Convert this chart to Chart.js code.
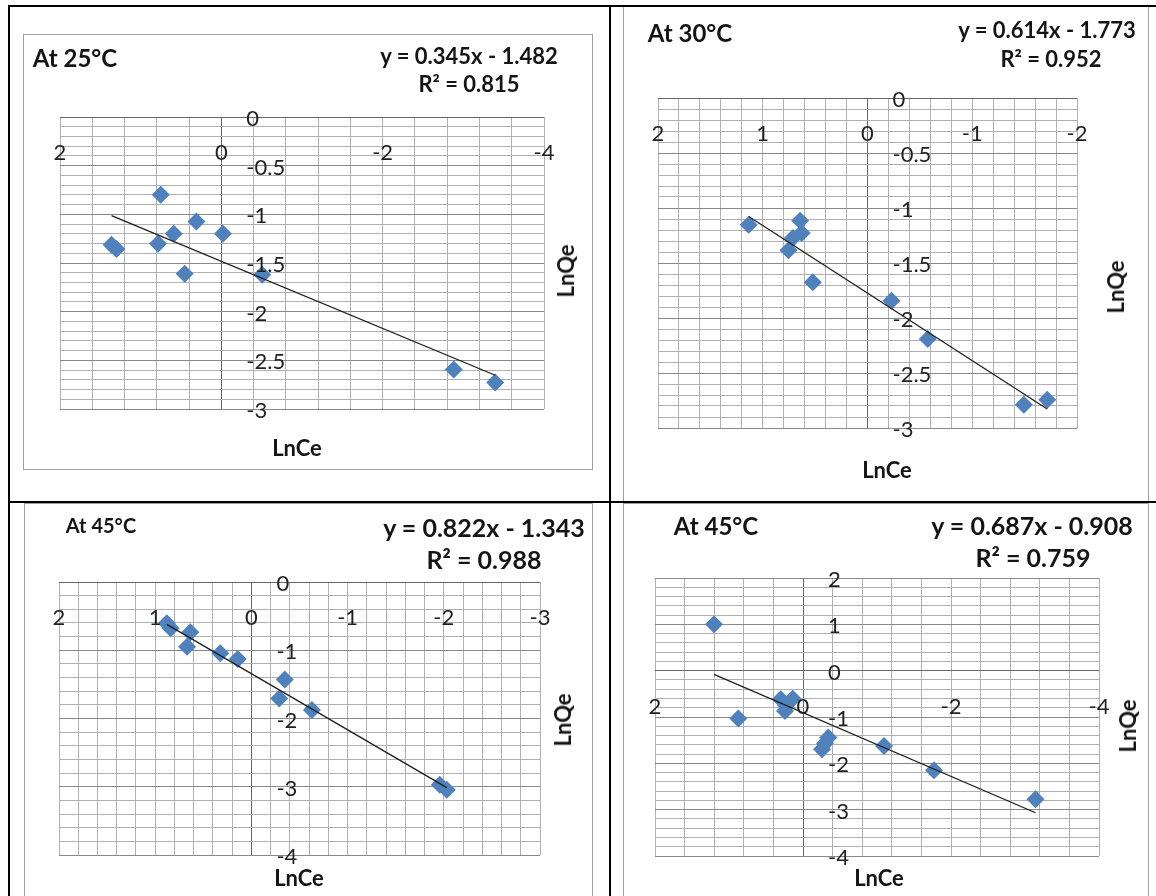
<!DOCTYPE html>
<html>
<head>
<meta charset="utf-8">
<title>Freundlich isotherms</title>
<script src="https://cdn.jsdelivr.net/npm/chart.js@4.4.1/dist/chart.umd.min.js"></script>
<style>
  html, body { margin: 0; padding: 0; background: #fff; }
  #page { position: relative; width: 1156px; height: 896px; overflow: hidden; background: #fff;
          font-family: Lato, "Open Sans", sans-serif; }
  .rule { position: absolute; background: #000; }
  .frame { position: absolute; border: 1px solid #a0a0a0; box-sizing: border-box; }
  canvas { position: absolute; }
  .t { position: absolute; transform: translate(-50%, -50%); white-space: nowrap;
       font-weight: 700; color: #141414; line-height: 1; }
  .rot { transform: translate(-50%, -50%) rotate(-90deg); }
</style>
</head>
<body>
<div id="page">
  <!-- chart frames -->
  <div class="frame" style="left:23px;top:34px;width:570px;height:436px"></div>
  <div class="frame" style="left:623px;top:5px;width:526px;height:497px"></div>
  <div class="frame" style="left:24px;top:503px;width:569px;height:400px"></div>
  <div class="frame" style="left:623px;top:503px;width:526px;height:400px"></div>

  <canvas id="c25" width="570" height="436" style="left:23px;top:34px"></canvas>
  <canvas id="c30" width="526" height="497" style="left:623px;top:5px"></canvas>
  <canvas id="c45a" width="569" height="393" style="left:24px;top:503px"></canvas>
  <canvas id="c45b" width="526" height="393" style="left:623px;top:503px"></canvas>

  <!-- 25 °C -->
  <div class="t" style="left:75px;top:58px;font-size:24px">At 25°C</div>
  <div class="t" id="eq25" style="left:469px;top:56px;font-size:22px"></div>
  <div class="t" id="r25" style="left:469px;top:84px;font-size:22px"></div>
  <div class="t" style="left:297px;top:448px;font-size:22px">LnCe</div>
  <div class="t rot" style="left:566px;top:271px;font-size:22px">LnQe</div>

  <!-- 30 °C -->
  <div class="t" style="left:690px;top:33px;font-size:24px">At 30°C</div>
  <div class="t" id="eq30" style="left:1047px;top:30px;font-size:22px"></div>
  <div class="t" id="r30" style="left:1051px;top:59px;font-size:22px"></div>
  <div class="t" style="left:887px;top:470px;font-size:22px">LnCe</div>
  <div class="t rot" style="left:1116px;top:287px;font-size:22px">LnQe</div>

  <!-- 45 °C, first set -->
  <div class="t" style="left:101px;top:525px;font-size:20px">At 45°C</div>
  <div class="t" id="eq45a" style="left:484px;top:527px;font-size:25px"></div>
  <div class="t" id="r45a" style="left:484px;top:559px;font-size:25px"></div>
  <div class="t" style="left:299px;top:878px;font-size:22px">LnCe</div>
  <div class="t rot" style="left:563px;top:720px;font-size:22px">LnQe</div>

  <!-- 45 °C, second set -->
  <div class="t" style="left:716px;top:526px;font-size:24px">At 45°C</div>
  <div class="t" id="eq45b" style="left:1032px;top:525px;font-size:25px"></div>
  <div class="t" id="r45b" style="left:1033px;top:557px;font-size:25px"></div>
  <div class="t" style="left:879px;top:878px;font-size:22px">LnCe</div>
  <div class="t rot" style="left:1128px;top:726px;font-size:22px">LnQe</div>

  <!-- table rules -->
  <div class="rule" style="left:8px;top:5px;width:1148px;height:2px"></div>
  <div class="rule" style="left:8px;top:5px;width:2px;height:891px"></div>
  <div class="rule" style="left:609px;top:5px;width:2px;height:891px"></div>
  <div class="rule" style="left:8px;top:501px;width:1148px;height:2px"></div>
</div>

<script>
// ln Ce / ln Qe pairs for each temperature
const lnCe25 = [1.361, 1.300, 0.751, 0.785, 0.590, 0.309, 0.454, -0.020, -0.507, -2.881, -3.395];
const lnQe25 = [-1.313, -1.357, -0.800, -1.303, -1.200, -1.074, -1.610, -1.200, -1.621, -2.595, -2.728];

const lnCe30 = [1.134, 0.643, 0.628, 0.712, 0.755, 0.522, -0.229, -0.575, -1.493, -1.716];
const lnQe30 = [-1.152, -1.115, -1.227, -1.273, -1.385, -1.676, -1.843, -2.191, -2.788, -2.743];

const lnCe45a = [0.879, 0.839, 0.635, 0.669, 0.324, 0.141, -0.347, -0.289, -0.629, -1.958, -2.031];
const lnQe45a = [-0.605, -0.678, -0.736, -0.947, -1.044, -1.130, -1.428, -1.706, -1.874, -2.972, -3.045];

const lnCe45b = [1.203, 0.874, 0.301, 0.139, 0.243, 0.230, -0.342, -0.297, -0.257, -1.095, -1.770, -3.142];
const lnQe45b = [1.004, -1.032, -0.616, -0.605, -0.868, -0.745, -1.443, -1.566, -1.695, -1.624, -2.149, -2.775];

// linear fits: [slope, intercept, R²]
const fit25 = [0.345, -1.482, 0.815];
const fit30 = [0.614, -1.773, 0.952];
const fit45a = [0.822, -1.343, 0.988];
const fit45b = [0.687, -0.908, 0.759];

// labelled axis values
const xTicks25 = [2, 0, -2, -4];
const yTicks25 = [0, -0.5, -1, -1.5, -2, -2.5, -3];
const xTicks30 = [2, 1, 0, -1, -2];
const yTicks30 = [0, -0.5, -1, -1.5, -2, -2.5, -3];
const xTicks45a = [2, 1, 0, -1, -2, -3];
const yTicks45a = [0, -1, -2, -3, -4];
const xTicks45b = [2, 0, -2, -4];
const yTicks45b = [2, 1, 0, -1, -2, -3, -4];

const MINOR = '#b0b0b0', MAJOR = '#888888', AXIS = '#666666', MARKER = '#4F81BD';

function gridColor(v, major) {
  if (Math.abs(v) < 1e-9) return AXIS;
  if (major && Math.abs(v / major - Math.round(v / major)) < 1e-6) return MAJOR;
  return MINOR;
}

// Tick labels sit beside the axes that cross at (0, 0), the way the spreadsheet drew them
const crossLabels = {
  id: 'crossLabels',
  afterDraw(chart, args, opts) {
    const { ctx, scales: { x, y } } = chart;
    const x0 = x.getPixelForValue(0), y0 = y.getPixelForValue(0);
    ctx.save();
    ctx.font = '22px Lato, "Open Sans", sans-serif';
    ctx.fillStyle = '#1f1f1f';
    ctx.textBaseline = 'middle';
    ctx.textAlign = 'center';
    opts.xLabels.forEach(v => ctx.fillText(String(v), x.getPixelForValue(v), y0 + 36));
    ctx.textAlign = 'left';
    opts.yLabels.forEach(v => ctx.fillText(String(v), x0 + 25, y.getPixelForValue(v) + 2));
    ctx.restore();
  }
};

function eqText(f) {
  const sign = f[1] < 0 ? ' - ' : ' + ';
  return 'y = ' + f[0].toFixed(3) + 'x' + sign + Math.abs(f[1]).toFixed(3);
}

function makeChart(id, xs, ys, fit, xTicks, yTicks, xStep, yStep, yMajor, pad) {
  const pts = xs.map((v, i) => ({ x: v, y: ys[i] }));
  const lo = Math.min(...xs), hi = Math.max(...xs);
  const trend = [lo, hi].map(v => ({ x: v, y: fit[0] * v + fit[1] }));
  document.getElementById('eq' + id.slice(1)).textContent = eqText(fit);
  document.getElementById('r' + id.slice(1)).textContent = 'R² = ' + fit[2].toFixed(3);

  new Chart(document.getElementById(id), {
    type: 'scatter',
    data: {
      datasets: [
        { data: trend, showLine: true, borderColor: '#1e1e1e', borderWidth: 1.3,
          pointRadius: 0, fill: false },
        { data: pts, pointStyle: 'rectRot', pointRadius: 9, pointHoverRadius: 9,
          backgroundColor: MARKER, borderColor: MARKER, borderWidth: 0 }
      ]
    },
    options: {
      responsive: false,
      animation: false,
      events: [],
      layout: { padding: pad },
      plugins: {
        legend: { display: false },
        tooltip: { enabled: false },
        crossLabels: { xLabels: xTicks, yLabels: yTicks }
      },
      scales: {
        x: {
          type: 'linear', reverse: true,
          min: Math.min(...xTicks), max: Math.max(...xTicks),
          ticks: { display: false, stepSize: xStep },
          grid: { drawTicks: false, lineWidth: 1, color: c => gridColor(c.tick.value, 0) },
          border: { display: false }
        },
        y: {
          type: 'linear',
          min: Math.min(...yTicks), max: Math.max(...yTicks),
          ticks: { display: false, stepSize: yStep },
          grid: { drawTicks: false, lineWidth: 1, color: c => gridColor(c.tick.value, yMajor) },
          border: { display: false }
        }
      }
    },
    plugins: [crossLabels]
  });
}

makeChart('c25', lnCe25, lnQe25, fit25, xTicks25, yTicks25, 0.4, 0.1, 0.5,
  { left: 37, right: 49, top: 83, bottom: 61 });
makeChart('c30', lnCe30, lnQe30, fit30, xTicks30, yTicks30, 0.2, 0.1, 0.5,
  { left: 35, right: 72, top: 93, bottom: 74 });
makeChart('c45a', lnCe45a, lnQe45a, fit45a, xTicks45a, yTicks45a, 0.2, 0.2, 1,
  { left: 35, right: 53, top: 79, bottom: 41 });
makeChart('c45b', lnCe45b, lnQe45b, fit45b, xTicks45b, yTicks45b, 0.4, 0.2, 1,
  { left: 32, right: 50, top: 75, bottom: 40 });
</script>
</body>
</html>
